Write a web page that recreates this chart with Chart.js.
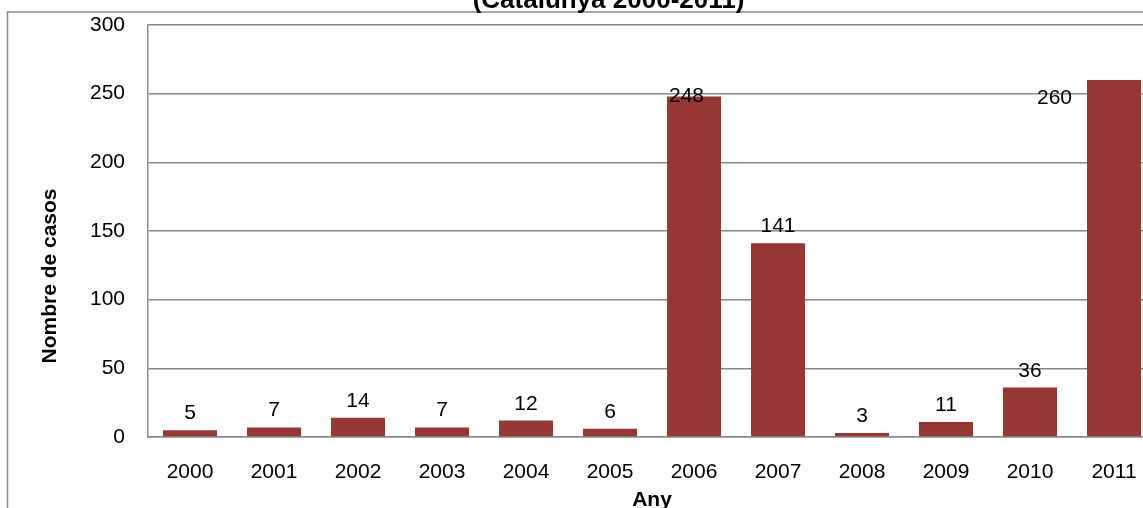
<!DOCTYPE html>
<html>
<head>
<meta charset="utf-8">
<title>Nombre de casos per any</title>
<script src="https://cdn.jsdelivr.net/npm/chart.js@4/dist/chart.umd.min.js"></script>
<style>
  html, body { margin: 0; padding: 0; background: #fff; overflow: hidden; }
  body { width: 1143px; height: 508px; position: relative; }
  #wrap { position: absolute; left: 0; top: -30px; width: 1180px; height: 560px; }
</style>
</head>
<body>
<div id="wrap"><canvas id="chart" width="1180" height="560"></canvas></div>
<script>
// Cases per year
const years = ['2000', '2001', '2002', '2003', '2004', '2005', '2006', '2007', '2008', '2009', '2010', '2011'];
const cases = [5, 7, 14, 7, 12, 6, 248, 141, 3, 11, 36, 260];
const yTicks = [0, 50, 100, 150, 200, 250, 300];
const chartTitle = '(Catalunya 2000-2011)';
const xTitle = 'Any';
const yTitle = 'Nombre de casos';

const FONT = '"Liberation Sans", Arial, sans-serif';
const GRID = '#8a8a8a';
const BAR = '#953735';

Chart.defaults.font.family = FONT;
Chart.defaults.color = '#000';

// Outer chart frame, heading line and the vertical axis caption
// (the caption is centred on the whole frame, not on the plot area)
const framePlugin = {
  id: 'frame',
  beforeDraw(chart) {
    const ctx = chart.ctx;
    ctx.save();
    ctx.fillStyle = '#fff';
    ctx.fillRect(0, 0, chart.width, chart.height);
    ctx.strokeStyle = GRID;
    ctx.lineWidth = 1.5;
    ctx.beginPath();
    ctx.moveTo(7.5, chart.height + 5);
    ctx.lineTo(7.5, 42);
    ctx.lineTo(chart.width + 5, 42);
    ctx.stroke();
    ctx.fillStyle = '#000';
    ctx.font = 'bold 26px ' + FONT;
    ctx.textAlign = 'center';
    ctx.textBaseline = 'alphabetic';
    ctx.fillText(chartTitle, 608.5, 38);
    ctx.translate(50, 306);
    ctx.rotate(-Math.PI / 2);
    ctx.font = 'bold 21px ' + FONT;
    ctx.textBaseline = 'middle';
    ctx.fillText(yTitle, 0, 0);
    ctx.restore();
  }
};

// Value labels over each bar
const barLabelPlugin = {
  id: 'barLabels',
  afterDatasetsDraw(chart, args, opts) {
    const ctx = chart.ctx;
    const meta = chart.getDatasetMeta(0);
    ctx.save();
    ctx.font = '21px ' + FONT;
    ctx.fillStyle = '#000';
    ctx.textAlign = 'center';
    ctx.textBaseline = 'alphabetic';
    meta.data.forEach((bar, i) => {
      const shift = (opts.shift && opts.shift[i]) || { dx: 0, dy: -11 };
      ctx.fillText(String(cases[i]), bar.x + shift.dx, bar.y + shift.dy);
    });
    ctx.restore();
  }
};

new Chart(document.getElementById('chart'), {
  type: 'bar',
  data: {
    labels: years,
    datasets: [{
      data: cases,
      backgroundColor: BAR,
      borderWidth: 0,
      categoryPercentage: 1,
      barPercentage: 0.643
    }]
  },
  options: {
    responsive: false,
    animation: false,
    devicePixelRatio: 1,
    layout: { padding: { left: 0, top: 55, right: 24, bottom: 17 } },
    plugins: {
      legend: { display: false },
      tooltip: { enabled: false },
      barLabels: {
        shift: {
          6: { dx: -7.5, dy: 5.5 },
          11: { dx: -59.5, dy: 24 }
        }
      }
    },
    scales: {
      x: {
        grid: { display: false, drawTicks: false },
        border: { display: true, color: GRID, width: 1.5 },
        ticks: { font: { size: 21 }, color: '#000', padding: 23, maxRotation: 0, autoSkip: false },
        title: { display: true, text: xTitle, font: { size: 21, weight: 'bold' }, color: '#000', padding: { top: 0, bottom: 0 } },
        afterFit(scale) { scale.height = 76; }
      },
      y: {
        min: 0,
        max: 300,
        afterBuildTicks(scale) { scale.ticks = yTicks.map(v => ({ value: v })); },
        grid: { color: GRID, lineWidth: 1.5, drawTicks: false },
        border: { display: true, color: GRID, width: 1.5 },
        ticks: { font: { size: 21 }, color: '#000', padding: 23 },
        title: { display: false },
        afterFit(scale) { scale.width = 148; }
      }
    }
  },
  plugins: [framePlugin, barLabelPlugin]
});
</script>
</body>
</html>
